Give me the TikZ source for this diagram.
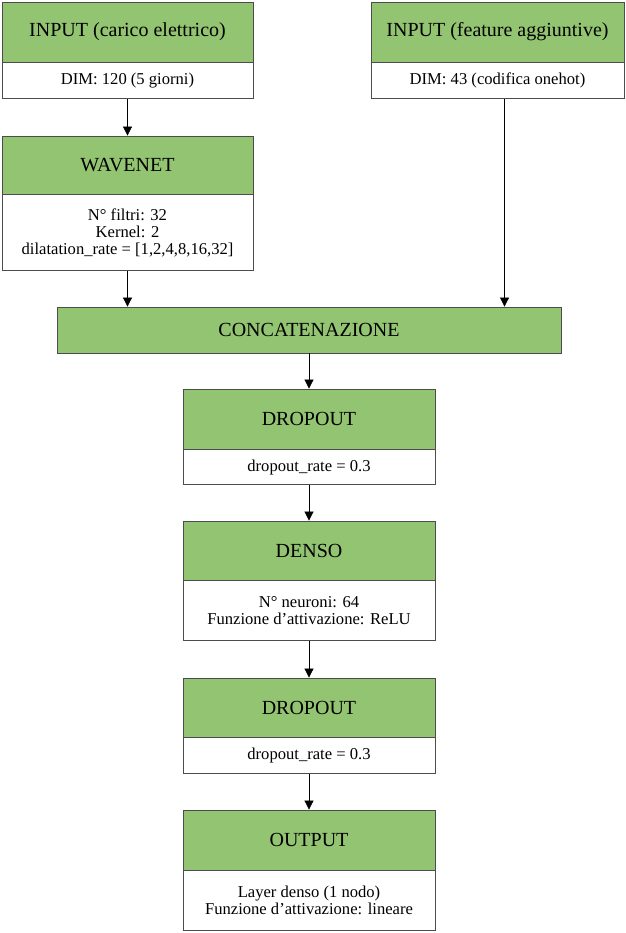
\documentclass[tikz,border=0pt]{standalone}
\usepackage{fontspec}
\setmainfont{Liberation Serif}
\usetikzlibrary{positioning,arrows.meta}
\definecolor{lgreen}{RGB}{147,196,114}

\begin{document}
\begin{tikzpicture}[x=1pt,y=-1pt]
\tikzstyle{head}=[draw=black!70, fill=lgreen, line width=0.8pt, inner sep=0pt, font=\fontsize{20}{23}\selectfont]
\tikzstyle{info}=[draw=black!70, fill=white, line width=0.8pt, inner sep=0pt, align=center, font=\fontsize{16.6}{17}\selectfont]
\tikzstyle{arr}=[-{Triangle[length=9pt,width=9pt]}, line width=0.7pt]

\useasboundingbox (0,0) rectangle (625,933);

% ingressi
\node[head, minimum width=251pt, minimum height=60pt] (in1) at (127.5,32) {INPUT (carico elettrico)};
\node[info, minimum width=251pt, minimum height=36pt, below=0pt of in1] (in1d) {DIM: 120 (5 giorni)};
\node[head, minimum width=253pt, minimum height=60pt] (in2) at (497.5,32) {INPUT (feature aggiuntive)};
\node[info, minimum width=253pt, minimum height=36pt, below=0pt of in2] (in2d) {DIM: 43 (codifica onehot)};
\coordinate (in2o) at ([xshift=7pt]in2d.south);

% wavenet
\node[head, minimum width=251pt, minimum height=58pt] (wn) at (127.5,165) {WAVENET};
\node[info, minimum width=251pt, minimum height=76pt, below=0pt of wn] (wnd) {N° filtri: 32\\Kernel: 2\\dilatation\_rate = [1,2,4,8,16,32]};

% concatenazione
\node[head, minimum width=504pt, minimum height=46pt] (conc) at (309,330) {CONCATENAZIONE};

% dropout 1
\node[head, minimum width=252pt, minimum height=60pt] (dr1) at (309,419) {DROPOUT};
\node[info, minimum width=252pt, minimum height=35pt, below=0pt of dr1] (dr1d) {dropout\_rate = 0.3};

% denso
\node[head, minimum width=252pt, minimum height=59pt] (den) at (309,550.5) {DENSO};
\node[info, minimum width=252pt, minimum height=60pt, below=0pt of den] (dend) {N° neuroni: 64\\Funzione d’attivazione: ReLU};

% dropout 2
\node[head, minimum width=252pt, minimum height=59pt] (dr2) at (309,707.5) {DROPOUT};
\node[info, minimum width=252pt, minimum height=36pt, below=0pt of dr2] (dr2d) {dropout\_rate = 0.3};

% output
\node[head, minimum width=252pt, minimum height=60pt] (out) at (309,840) {OUTPUT};
\node[info, minimum width=252pt, minimum height=60pt, below=0pt of out] (outd) {Layer denso (1 nodo)\\Funzione d’attivazione: lineare};

\draw[arr] (in1d) -- (wn);
\draw[arr] (wnd) -- (conc.north -| wnd);
\draw[arr] (in2o) -- (conc.north -| in2o);
\draw[arr] (conc) -- (dr1);
\draw[arr] (dr1d) -- (den);
\draw[arr] (dend) -- (dr2);
\draw[arr] (dr2d) -- (out);
\end{tikzpicture}
\end{document}
